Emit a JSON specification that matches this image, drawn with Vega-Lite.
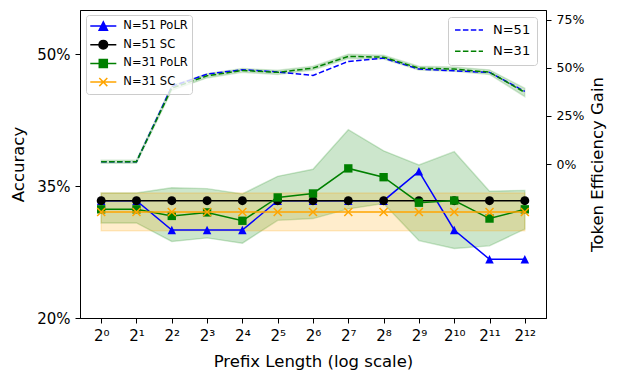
{
  "$schema": "https://vega.github.io/schema/vega-lite/v6.json",
  "width": 466,
  "height": 308,
  "autosize": {"type": "none"},
  "padding": {"left": 80, "top": 10, "right": 72, "bottom": 63},
  "background": "white",
  "datasets": {
    "acc": [
      {"series": "N=51 PoLR", "exp": 0, "acc": 33.33},
      {"series": "N=51 PoLR", "exp": 1, "acc": 33.33},
      {"series": "N=51 PoLR", "exp": 2, "acc": 30.0},
      {"series": "N=51 PoLR", "exp": 3, "acc": 30.0},
      {"series": "N=51 PoLR", "exp": 4, "acc": 30.0},
      {"series": "N=51 PoLR", "exp": 5, "acc": 33.33},
      {"series": "N=51 PoLR", "exp": 6, "acc": 33.33},
      {"series": "N=51 PoLR", "exp": 7, "acc": 33.33},
      {"series": "N=51 PoLR", "exp": 8, "acc": 33.33},
      {"series": "N=51 PoLR", "exp": 9, "acc": 36.67},
      {"series": "N=51 PoLR", "exp": 10, "acc": 30.0},
      {"series": "N=51 PoLR", "exp": 11, "acc": 26.67},
      {"series": "N=51 PoLR", "exp": 12, "acc": 26.67},
      {"series": "N=51 SC", "exp": 0, "acc": 33.33},
      {"series": "N=51 SC", "exp": 1, "acc": 33.33},
      {"series": "N=51 SC", "exp": 2, "acc": 33.33},
      {"series": "N=51 SC", "exp": 3, "acc": 33.33},
      {"series": "N=51 SC", "exp": 4, "acc": 33.33},
      {"series": "N=51 SC", "exp": 5, "acc": 33.33},
      {"series": "N=51 SC", "exp": 6, "acc": 33.33},
      {"series": "N=51 SC", "exp": 7, "acc": 33.33},
      {"series": "N=51 SC", "exp": 8, "acc": 33.33},
      {"series": "N=51 SC", "exp": 9, "acc": 33.33},
      {"series": "N=51 SC", "exp": 10, "acc": 33.33},
      {"series": "N=51 SC", "exp": 11, "acc": 33.33},
      {"series": "N=51 SC", "exp": 12, "acc": 33.33},
      {"series": "N=31 PoLR", "exp": 0, "acc": 32.35, "lo": 30.8, "hi": 34.2},
      {"series": "N=31 PoLR", "exp": 1, "acc": 32.35, "lo": 30.8, "hi": 34.2},
      {"series": "N=31 PoLR", "exp": 2, "acc": 31.6, "lo": 28.7, "hi": 34.8},
      {"series": "N=31 PoLR", "exp": 3, "acc": 32.0, "lo": 29.1, "hi": 34.7},
      {"series": "N=31 PoLR", "exp": 4, "acc": 31.05, "lo": 28.5, "hi": 34.1},
      {"series": "N=31 PoLR", "exp": 5, "acc": 33.7, "lo": 31.1, "hi": 36.1},
      {"series": "N=31 PoLR", "exp": 6, "acc": 34.15, "lo": 31.3, "hi": 36.9},
      {"series": "N=31 PoLR", "exp": 7, "acc": 37.0, "lo": 32.4, "hi": 41.4},
      {"series": "N=31 PoLR", "exp": 8, "acc": 36.0, "lo": 33.0, "hi": 39.0},
      {"series": "N=31 PoLR", "exp": 9, "acc": 33.1, "lo": 28.8, "hi": 37.4},
      {"series": "N=31 PoLR", "exp": 10, "acc": 33.35, "lo": 27.9, "hi": 38.9},
      {"series": "N=31 PoLR", "exp": 11, "acc": 31.3, "lo": 28.2, "hi": 34.4},
      {"series": "N=31 PoLR", "exp": 12, "acc": 32.35, "lo": 30.1, "hi": 34.5},
      {"series": "N=31 SC", "exp": 0, "acc": 32.05, "lo": 29.9, "hi": 34.2},
      {"series": "N=31 SC", "exp": 1, "acc": 32.05, "lo": 29.9, "hi": 34.2},
      {"series": "N=31 SC", "exp": 2, "acc": 32.05, "lo": 29.9, "hi": 34.2},
      {"series": "N=31 SC", "exp": 3, "acc": 32.05, "lo": 29.9, "hi": 34.2},
      {"series": "N=31 SC", "exp": 4, "acc": 32.05, "lo": 29.9, "hi": 34.2},
      {"series": "N=31 SC", "exp": 5, "acc": 32.05, "lo": 29.9, "hi": 34.2},
      {"series": "N=31 SC", "exp": 6, "acc": 32.05, "lo": 29.9, "hi": 34.2},
      {"series": "N=31 SC", "exp": 7, "acc": 32.05, "lo": 29.9, "hi": 34.2},
      {"series": "N=31 SC", "exp": 8, "acc": 32.05, "lo": 29.9, "hi": 34.2},
      {"series": "N=31 SC", "exp": 9, "acc": 32.05, "lo": 29.9, "hi": 34.2},
      {"series": "N=31 SC", "exp": 10, "acc": 32.05, "lo": 29.9, "hi": 34.2},
      {"series": "N=31 SC", "exp": 11, "acc": 32.05, "lo": 29.9, "hi": 34.2},
      {"series": "N=31 SC", "exp": 12, "acc": 32.05, "lo": 29.9, "hi": 34.2}
    ],
    "eff": [
      {"n": "N=51", "exp": 0, "eff": 1.2},
      {"n": "N=51", "exp": 1, "eff": 1.2},
      {"n": "N=51", "exp": 2, "eff": 40.3},
      {"n": "N=51", "exp": 3, "eff": 46.7},
      {"n": "N=51", "exp": 4, "eff": 49.0},
      {"n": "N=51", "exp": 5, "eff": 47.8},
      {"n": "N=51", "exp": 6, "eff": 46.0},
      {"n": "N=51", "exp": 7, "eff": 53.3},
      {"n": "N=51", "exp": 8, "eff": 55.0},
      {"n": "N=51", "exp": 9, "eff": 49.3},
      {"n": "N=51", "exp": 10, "eff": 48.4},
      {"n": "N=51", "exp": 11, "eff": 47.6},
      {"n": "N=51", "exp": 12, "eff": 37.7},
      {"n": "N=31", "exp": 0, "eff": 1.2, "lo": 0.4, "hi": 2.0},
      {"n": "N=31", "exp": 1, "eff": 1.2, "lo": 0.4, "hi": 2.0},
      {"n": "N=31", "exp": 2, "eff": 39.4, "lo": 38.2, "hi": 40.8},
      {"n": "N=31", "exp": 3, "eff": 45.8, "lo": 44.7, "hi": 46.9},
      {"n": "N=31", "exp": 4, "eff": 48.6, "lo": 47.6, "hi": 49.6},
      {"n": "N=31", "exp": 5, "eff": 47.6, "lo": 46.5, "hi": 48.7},
      {"n": "N=31", "exp": 6, "eff": 49.8, "lo": 48.8, "hi": 50.8},
      {"n": "N=31", "exp": 7, "eff": 55.9, "lo": 54.8, "hi": 57.0},
      {"n": "N=31", "exp": 8, "eff": 55.5, "lo": 54.5, "hi": 56.5},
      {"n": "N=31", "exp": 9, "eff": 49.8, "lo": 48.8, "hi": 50.8},
      {"n": "N=31", "exp": 10, "eff": 49.3, "lo": 48.2, "hi": 50.4},
      {"n": "N=31", "exp": 11, "eff": 47.7, "lo": 46.5, "hi": 48.9},
      {"n": "N=31", "exp": 12, "eff": 37.2, "lo": 35.0, "hi": 39.4}
    ]
  },
  "encoding": {
    "x": {
      "field": "exp",
      "type": "quantitative",
      "scale": {"domain": [-0.6, 12.6], "nice": false, "zero": false},
      "axis": {
        "values": [0, 1, 2, 3, 4, 5, 6, 7, 8, 9, 10, 11, 12],
        "labelExpr": "'2' + ['⁰','¹','²','³','⁴','⁵','⁶','⁷','⁸','⁹','¹⁰','¹¹','¹²'][datum.value]",
        "labelFlush": false,
        "labelOverlap": false,
        "title": "Prefix Length (log scale)",
        "titlePadding": 10
      }
    }
  },
  "layer": [
    {
      "data": {"name": "acc"},
      "encoding": {
        "y": {
          "field": "acc",
          "type": "quantitative",
          "scale": {"domain": [20, 55], "nice": false, "zero": false},
          "axis": {"orient": "left", "values": [20, 35, 50], "labelExpr": "datum.value + '%'", "title": "Accuracy", "titlePadding": 10}
        }
      },
      "layer": [
        {
          "transform": [{"filter": "datum.series == 'N=31 PoLR'"}],
          "mark": {"type": "area", "color": "green", "fillOpacity": 0.2, "stroke": "green", "strokeOpacity": 0.2, "strokeWidth": 1.4},
          "encoding": {
            "y": {"field": "lo", "type": "quantitative", "scale": {"domain": [20, 55], "nice": false, "zero": false},
              "axis": {"orient": "left", "values": [20, 35, 50], "labelExpr": "datum.value + '%'", "title": "Accuracy", "titlePadding": 10}},
            "y2": {"field": "hi"}
          }
        },
        {
          "transform": [{"filter": "datum.series == 'N=31 SC'"}],
          "mark": {"type": "area", "color": "orange", "fillOpacity": 0.2, "stroke": "orange", "strokeOpacity": 0.2, "strokeWidth": 1.4},
          "encoding": {
            "y": {"field": "lo", "type": "quantitative", "scale": {"domain": [20, 55], "nice": false, "zero": false},
              "axis": {"orient": "left", "values": [20, 35, 50], "labelExpr": "datum.value + '%'", "title": "Accuracy", "titlePadding": 10}},
            "y2": {"field": "hi"}
          }
        },
        {
          "transform": [{"filter": "datum.series == 'N=51 PoLR'"}],
          "mark": {"type": "line", "color": "blue", "strokeWidth": 1.5}
        },
        {
          "transform": [{"filter": "datum.series == 'N=51 PoLR'"}],
          "mark": {"type": "point", "shape": "M0,-1L1,1L-1,1Z", "filled": true, "size": 72, "color": "blue", "opacity": 1}
        },
        {
          "transform": [{"filter": "datum.series == 'N=51 SC'"}],
          "mark": {"type": "line", "color": "black", "strokeWidth": 1.5}
        },
        {
          "transform": [{"filter": "datum.series == 'N=51 SC'"}],
          "mark": {"type": "point", "shape": "circle", "filled": true, "size": 80, "color": "black", "opacity": 1}
        },
        {
          "transform": [{"filter": "datum.series == 'N=31 PoLR'"}],
          "mark": {"type": "line", "color": "green", "strokeWidth": 1.5}
        },
        {
          "transform": [{"filter": "datum.series == 'N=31 PoLR'"}],
          "mark": {"type": "point", "shape": "square", "filled": true, "size": 70, "color": "green", "opacity": 1}
        },
        {
          "transform": [{"filter": "datum.series == 'N=31 SC'"}],
          "mark": {"type": "line", "color": "orange", "strokeWidth": 1.5}
        },
        {
          "transform": [{"filter": "datum.series == 'N=31 SC'"}],
          "mark": {"type": "point", "shape": "M-1,-1L1,1M-1,1L1,-1", "filled": false, "size": 64, "color": "orange", "strokeWidth": 1.5, "opacity": 1}
        },
        {
          "transform": [{"filter": "false"}],
          "mark": {"type": "point", "filled": true, "opacity": 1},
          "encoding": {
            "fill": {
              "field": "series", "type": "nominal",
              "scale": {"domain": ["N=51 PoLR", "N=51 SC", "N=31 PoLR", "N=31 SC"], "range": ["blue", "black", "green", "orange"]},
              "legend": {"orient": "none", "legendX": 6, "legendY": 5, "title": null, "symbolSize": 144, "symbolOffset": 6.3, "symbolStrokeWidth": 1.5, "labelFontSize": 11.5, "labelOffset": 13, "rowPadding": 2.7, "padding": 4, "fillColor": "rgba(255,255,255,0.8)", "strokeColor": "#cccccc", "cornerRadius": 3, "labelFont": "DejaVu Sans", "labelColor": "black"}
            },
            "stroke": {
              "field": "series", "type": "nominal",
              "scale": {"domain": ["N=51 PoLR", "N=51 SC", "N=31 PoLR", "N=31 SC"], "range": ["blue", "black", "green", "orange"]},
              "legend": {"orient": "none", "legendX": 6, "legendY": 5, "title": null, "symbolSize": 144, "symbolOffset": 6.3, "symbolStrokeWidth": 1.5, "labelFontSize": 11.5, "labelOffset": 13, "rowPadding": 2.7, "padding": 4, "fillColor": "rgba(255,255,255,0.8)", "strokeColor": "#cccccc", "cornerRadius": 3, "labelFont": "DejaVu Sans", "labelColor": "black"}
            },
            "shape": {
              "field": "series", "type": "nominal",
              "scale": {"domain": ["N=51 PoLR", "N=51 SC", "N=31 PoLR", "N=31 SC"], "range": [
                "M-2.17,0H2.17M0,-0.69L0.69,0.69L-0.69,0.69Z",
                "M-2.17,0H2.17M0.72,0A0.72,0.72,0,1,1,-0.72,0A0.72,0.72,0,1,1,0.72,0Z",
                "M-2.17,0H2.17M-0.67,-0.67H0.67V0.67H-0.67Z",
                "M-2.17,0H2.17M-0.67,-0.67L0.67,0.67M-0.67,0.67L0.67,-0.67"
              ]},
              "legend": {"orient": "none", "legendX": 6, "legendY": 5, "title": null, "symbolSize": 144, "symbolOffset": 6.3, "symbolStrokeWidth": 1.5, "labelFontSize": 11.5, "labelOffset": 13, "rowPadding": 2.7, "padding": 4, "fillColor": "rgba(255,255,255,0.8)", "strokeColor": "#cccccc", "cornerRadius": 3, "labelFont": "DejaVu Sans", "labelColor": "black"}
            }
          }
        }
      ]
    },
    {
      "data": {"name": "eff"},
      "encoding": {
        "y": {
          "field": "eff",
          "type": "quantitative",
          "scale": {"domain": [-80, 80], "nice": false, "zero": false},
          "axis": {"orient": "right", "values": [0, 25, 50, 75], "labelExpr": "datum.value + '%'", "labelFontSize": 12.5, "title": "Token Efficiency Gain", "titleAngle": 270, "titleBaseline": "top", "titlePadding": 6}
        }
      },
      "layer": [
        {
          "transform": [{"filter": "datum.n == 'N=31'"}],
          "mark": {"type": "area", "color": "green", "fillOpacity": 0.2, "stroke": "green", "strokeOpacity": 0.15, "strokeWidth": 1.4},
          "encoding": {
            "y": {"field": "lo", "type": "quantitative", "scale": {"domain": [-80, 80], "nice": false, "zero": false},
              "axis": {"orient": "right", "values": [0, 25, 50, 75], "labelExpr": "datum.value + '%'", "labelFontSize": 12.5, "title": "Token Efficiency Gain", "titleAngle": 270, "titleBaseline": "top", "titlePadding": 6}},
            "y2": {"field": "hi"}
          }
        },
        {
          "mark": {"type": "line", "strokeWidth": 1.5, "strokeDash": [5.5, 2.4]},
          "encoding": {
            "color": {
              "field": "n", "type": "nominal",
              "scale": {"domain": ["N=51", "N=31"], "range": ["blue", "green"]},
              "legend": {"orient": "none", "legendX": 368, "legendY": 7, "title": null, "symbolType": "M-2.33,0H2.33", "symbolSize": 144, "symbolOffset": 8, "symbolStrokeWidth": 1.5, "symbolDash": [5.5, 2.4], "labelFontSize": 13, "labelOffset": 17, "rowPadding": 7.3, "padding": 6, "fillColor": "rgba(255,255,255,0.8)", "strokeColor": "#cccccc", "cornerRadius": 3, "labelFont": "DejaVu Sans", "labelColor": "black"}
            }
          }
        }
      ]
    }
  ],
  "resolve": {"scale": {"y": "independent"}},
  "config": {
    "font": "DejaVu Sans",
    "view": {"stroke": "black", "strokeWidth": 1},
    "axis": {
      "grid": false,
      "domainColor": "black",
      "domainWidth": 1,
      "tickColor": "black",
      "tickWidth": 1,
      "tickSize": 5,
      "labelColor": "black",
      "titleColor": "black",
      "labelFont": "DejaVu Sans",
      "titleFont": "DejaVu Sans",
      "titleFontWeight": "normal",
      "titleFontSize": 16.5,
      "labelFontSize": 15,
      "labelPadding": 5
    },
    "legend": {"labelFont": "DejaVu Sans", "labelColor": "black"}
  }
}
